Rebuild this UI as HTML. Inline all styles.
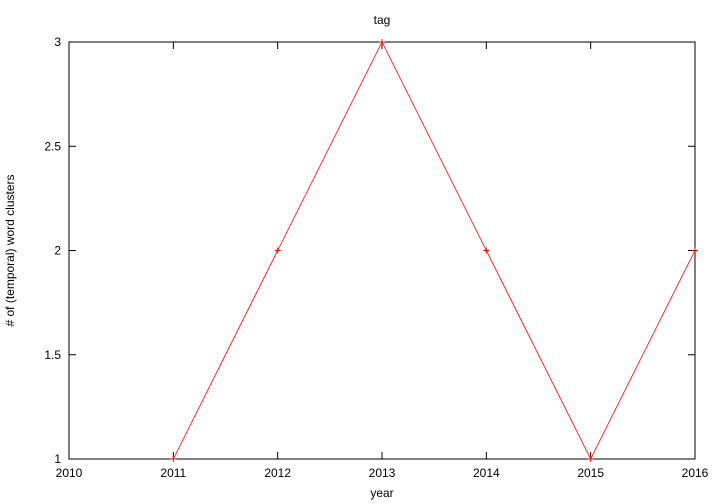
<!DOCTYPE html>
<html><head><meta charset="utf-8"><style>
html,body{margin:0;padding:0;background:#fff;}
svg{display:block;font-family:"Liberation Sans",sans-serif;}
</style></head><body>
<svg id="chart" width="720" height="504" xmlns="http://www.w3.org/2000/svg">
<rect width="720" height="504" fill="#fff"/>
<g id="axes"></g>
<g id="series"></g>
</svg>
<script>
const years = [2011, 2012, 2013, 2014, 2015, 2016];
const clusters = [1, 2, 3, 2, 1, 2];
const xTicks = [2010, 2011, 2012, 2013, 2014, 2015, 2016];
const yTicks = [1, 1.5, 2, 2.5, 3];

const L=69,R=695,T=42,B=459;
const xS=v=>L+(v-2010)/(2016-2010)*(R-L);
const yS=v=>B-(v-1)/(3-1)*(B-T);
const NS="http://www.w3.org/2000/svg";
const ax=document.getElementById('axes'), se=document.getElementById('series');
function mk(tag,attrs,parent,text){const e=document.createElementNS(NS,tag);for(const k in attrs)e.setAttribute(k,attrs[k]);if(text!==undefined)e.textContent=text;parent.appendChild(e);return e;}

let frame=mk('rect',{x:L,y:T,width:R-L,height:B-T,fill:'none',stroke:'#000','stroke-width':1},ax);



xTicks.forEach(v=>{const x=xS(v);
 let t=mk('path',{d:`M${x} ${B}v-7M${x} ${T}v7`,stroke:'#000','stroke-width':1},ax);
 
 
 let l=mk('text',{x:x,y:B+18,'text-anchor':'middle','font-size':12},ax,String(v));
 
 
});
yTicks.forEach(v=>{const y=yS(v);
 let t=mk('path',{d:`M${L} ${y}h7M${R} ${y}h-7`,stroke:'#000','stroke-width':1},ax);
 
 
 let l=mk('text',{x:L-8,y:y+4,'text-anchor':'end','font-size':12},ax,String(v));
 
 
});
let ti=mk('text',{x:382,y:24,'text-anchor':'middle','font-size':12},ax,'tag');


let xl=mk('text',{x:382,y:497,'text-anchor':'middle','font-size':12},ax,'year');


let yl=mk('text',{x:0,y:0,'text-anchor':'middle','font-size':12,transform:`translate(14,${(T+B)/2}) rotate(-90)`},ax,'# of (temporal) word clusters');



const pts=years.map((y,i)=>[xS(y),yS(clusters[i])]);
let line=mk('polyline',{points:pts.map(p=>p.join(',')).join(' '),fill:'none',stroke:'#ff0000','stroke-width':0.8},se);


pts.forEach(p=>{
 let m=mk('path',{d:`M${p[0]-3} ${p[1]}h6M${p[0]} ${p[1]-3}v6`,stroke:'#ff0000','stroke-width':1},se);
 
 
});
</script>
</body></html>
